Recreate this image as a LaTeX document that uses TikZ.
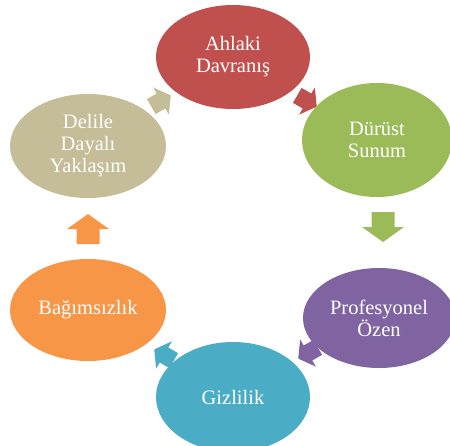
\documentclass[tikz,border=0pt]{standalone}
\usepackage{fontspec}
\setmainfont{Liberation Serif}
\usetikzlibrary{shapes.geometric}
\definecolor{cred}{HTML}{C0504D}
\definecolor{cgreen}{HTML}{9BBB59}
\definecolor{cpurple}{HTML}{8064A2}
\definecolor{cteal}{HTML}{4BACC6}
\definecolor{corange}{HTML}{F79646}
\definecolor{cbeige}{HTML}{C4BD97}
\tikzset{
  blob/.style={ellipse, inner sep=0pt, text=white, align=center,
    font=\fontsize{20.5}{22}\selectfont},
  barrow/.pic={\path[pic actions] (-15,-11.5)--(0,-11.5)--(0,-21)--(15,0)--(0,21)--(0,11.5)--(-15,11.5)--cycle;}
}
\begin{document}
\begin{tikzpicture}[x=1pt,y=-1pt]
\useasboundingbox (0,0) rectangle (450,445);
% arrows
\pic[fill=cred, rotate=-30, scale=0.75] at (307,101) {barrow};
\pic[fill=cgreen, rotate=-90] at (383,227) {barrow};
\pic[fill=cpurple, rotate=210, scale=0.75] at (308,353) {barrow};
\pic[fill=cteal, rotate=150, scale=0.75] at (164,355) {barrow};
\pic[fill=corange, rotate=90] at (88,229) {barrow};
\pic[fill=cbeige, rotate=30, scale=0.75] at (161,101) {barrow};
% ellipses
\node[blob, fill=cred, minimum width=154pt, minimum height=104pt] (a) at (233,57) {Ahlaki\\Davranış};
\node[blob, fill=cgreen, minimum width=150pt, minimum height=114pt] (b) at (377,140) {Dürüst\\Sunum};
\node[blob, fill=cpurple, minimum width=152pt, minimum height=100pt] (c) at (379,318) {Profesyonel\\Özen};
\node[blob, fill=cteal, minimum width=154pt, minimum height=110pt] (d) at (233,397) {Gizlilik};
\node[blob, fill=corange, minimum width=156pt, minimum height=102pt] (e) at (88,310) {Bağımsızlık};
\node[blob, fill=cbeige, minimum width=156pt, minimum height=104pt] (f) at (88,146) {Delile\\Dayalı\\Yaklaşım};
\end{tikzpicture}
\end{document}
